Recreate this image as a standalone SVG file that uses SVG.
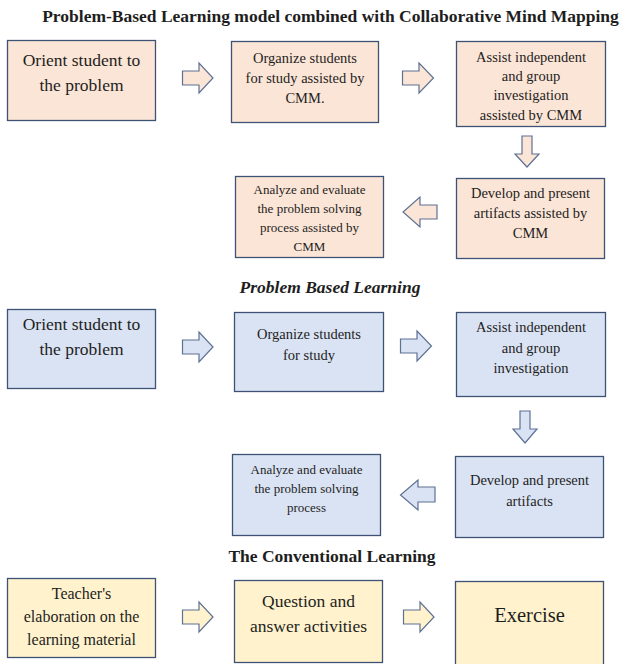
<svg xmlns="http://www.w3.org/2000/svg" width="622" height="664" viewBox="0 0 622 664">
<style>
  text { font-family: "Liberation Serif", "Times New Roman", serif; fill: #1e1e1e; text-anchor: middle; }
  .title { font-size: 17.5px; font-weight: bold; }
  .ital { font-style: italic; }
  .box { stroke: #3d5275; stroke-width: 1.3; }
  .arr { stroke: #5d7194; stroke-width: 1.2; stroke-linejoin: miter; }
  .o { fill: #fbe5d6; }
  .b { fill: #dae3f3; }
  .y { fill: #fff2cc; }
  .t175 { font-size: 17.5px; }
  .t145 { font-size: 14.5px; }
  .t13 { font-size: 13px; }
  .t16 { font-size: 16px; }
  .t20 { font-size: 20.5px; }
</style>
<rect width="622" height="664" fill="#ffffff"/>

<text class="title" x="330.5" y="22">Problem-Based Learning model combined with Collaborative Mind Mapping</text>
<text class="title ital" x="330" y="293">Problem Based Learning</text>
<text class="title" x="332" y="562">The Conventional Learning</text>

<g id="connectors">
  <!-- row 1 -->
  <path class="arr o" d="M182.5,71 H199 V63 L213,78 L199,93 V85 H182.5 Z"/>
  <path class="arr o" d="M402.5,71 H419 V63 L433.5,78 L419,93 V85 H402.5 Z"/>
  <path class="arr o" d="M522,136 H532 V154 H539 L527,167 L515,154 H522 Z"/>
  <path class="arr o" d="M437,205 H420 V197 L403,212 L420,227 V219 H437 Z"/>
  <!-- row 2 -->
  <path class="arr b" d="M182.5,340 H199 V332 L213,347 L199,362 V354 H182.5 Z"/>
  <path class="arr b" d="M400.5,339 H417 V331 L431.5,346 L417,361 V353 H400.5 Z"/>
  <path class="arr b" d="M520,411 H530 V429 H537 L525,443 L513,429 H520 Z"/>
  <path class="arr b" d="M435,487 H418 V480 L400.5,495 L418,510 V502 H435 Z"/>
  <!-- row 3 -->
  <path class="arr y" d="M182.5,610 H199 V602 L213,617 L199,632 V624 H182.5 Z"/>
  <path class="arr y" d="M403.5,610 H420 V602 L434,617 L420,632 V624 H403.5 Z"/>
</g>

<g id="pbl-cmm-orient">
  <rect class="box o" x="7.5" y="40.5" width="148" height="80"/>
  <text class="t175" x="81.5" y="66">Orient student to</text>
  <text class="t175" x="81.5" y="91">the problem</text>
</g>
<g id="pbl-cmm-organize">
  <rect class="box o" x="231.5" y="41.5" width="147" height="81"/>
  <text class="t145" x="305" y="63">Organize students</text>
  <text class="t145" x="305" y="83">for study assisted by</text>
  <text class="t145" x="305" y="103">CMM.</text>
</g>
<g id="pbl-cmm-assist">
  <rect class="box o" x="456.5" y="41.5" width="149" height="85"/>
  <text class="t145" x="531" y="62">Assist independent</text>
  <text class="t145" x="531" y="81">and group</text>
  <text class="t145" x="531" y="100">investigation</text>
  <text class="t145" x="531" y="120">assisted by CMM</text>
</g>
<g id="pbl-cmm-develop">
  <rect class="box o" x="456.5" y="178.5" width="148" height="80"/>
  <text class="t145" x="530.5" y="198">Develop and present</text>
  <text class="t145" x="530.5" y="218">artifacts assisted by</text>
  <text class="t145" x="530.5" y="238">CMM</text>
</g>
<g id="pbl-cmm-analyze">
  <rect class="box o" x="235.5" y="176.5" width="148" height="81"/>
  <text class="t13" x="309.5" y="194">Analyze and evaluate</text>
  <text class="t13" x="309.5" y="213">the problem solving</text>
  <text class="t13" x="309.5" y="232">process assisted by</text>
  <text class="t13" x="309.5" y="251">CMM</text>
</g>

<g id="pbl-orient">
  <rect class="box b" x="7.5" y="309.5" width="148" height="79"/>
  <text class="t175" x="81.5" y="330">Orient student to</text>
  <text class="t175" x="81.5" y="355">the problem</text>
</g>
<g id="pbl-organize">
  <rect class="box b" x="234.5" y="312.5" width="149" height="79"/>
  <text class="t145" x="309" y="339">Organize students</text>
  <text class="t145" x="309" y="360">for study</text>
</g>
<g id="pbl-assist">
  <rect class="box b" x="456.5" y="312.5" width="149" height="84"/>
  <text class="t145" x="531" y="332">Assist independent</text>
  <text class="t145" x="531" y="353">and group</text>
  <text class="t145" x="531" y="373">investigation</text>
</g>
<g id="pbl-develop">
  <rect class="box b" x="455.5" y="456.5" width="148" height="81"/>
  <text class="t145" x="529.5" y="485">Develop and present</text>
  <text class="t145" x="529.5" y="506">artifacts</text>
</g>
<g id="pbl-analyze">
  <rect class="box b" x="232.5" y="454.5" width="148" height="81"/>
  <text class="t13" x="306.5" y="474">Analyze and evaluate</text>
  <text class="t13" x="306.5" y="493">the problem solving</text>
  <text class="t13" x="306.5" y="512">process</text>
</g>

<g id="conv-teacher">
  <rect class="box y" x="7.5" y="578.5" width="148" height="79"/>
  <text class="t16" x="81.5" y="599">Teacher's</text>
  <text class="t16" x="81.5" y="622">elaboration on the</text>
  <text class="t16" x="81.5" y="645">learning material</text>
</g>
<g id="conv-question">
  <rect class="box y" x="234.5" y="580.5" width="148" height="82"/>
  <text class="t175" x="308.5" y="607">Question and</text>
  <text class="t175" x="308.5" y="632">answer activities</text>
</g>
<g id="conv-exercise">
  <rect class="box y" x="455.5" y="581.5" width="148" height="92"/>
  <text class="t20" x="529.5" y="622">Exercise</text>
</g>
</svg>
